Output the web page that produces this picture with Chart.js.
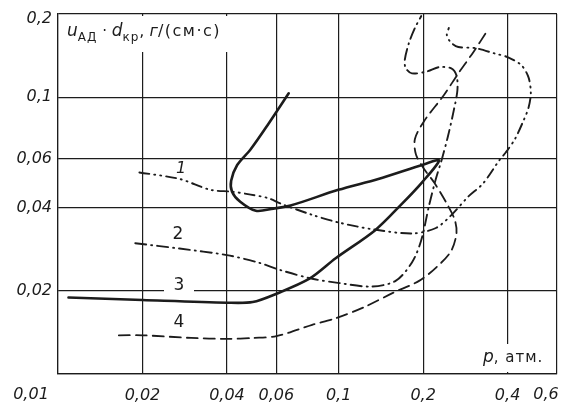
<!DOCTYPE html>
<html>
<head>
<meta charset="utf-8">
<script src="https://cdn.jsdelivr.net/npm/chart.js@4"></script>
<style>
  html, body { margin: 0; padding: 0; background: #fff; }
</style>
</head>
<body>
<canvas id="chart" width="562" height="407"></canvas>
<script>
// ticks of both log axes
const xTicks = [0.01, 0.02, 0.04, 0.06, 0.1, 0.2, 0.4, 0.6];
const yTicks = [0.01, 0.02, 0.04, 0.06, 0.1, 0.2];

// curve 1 (dash-dot-dot)
const c1p = [0.0195, 0.0271, 0.0349, 0.0417, 0.0486, 0.0561, 0.0624, 0.0805, 0.0997, 0.1307, 0.1825, 0.2222, 0.2527, 0.290, 0.327, 0.375, 0.394, 0.425, 0.455, 0.475, 0.484, 0.475, 0.448, 0.40, 0.36, 0.307, 0.267, 0.251, 0.243, 0.247];
const c1u = [0.0535, 0.0507, 0.0463, 0.0456, 0.0445, 0.0432, 0.0412, 0.0376, 0.0353, 0.0334, 0.0322, 0.0337, 0.0376, 0.0438, 0.0488, 0.0595, 0.0632, 0.0707, 0.082, 0.0917, 0.1034, 0.118, 0.1306, 0.1397, 0.144, 0.1506, 0.152, 0.158, 0.168, 0.178];

// curve 2 (dash-dot)
const c2p = [0.01885, 0.0271, 0.04, 0.0516, 0.0624, 0.0805, 0.1008, 0.1307, 0.1596, 0.1825, 0.1967, 0.21, 0.222, 0.233, 0.245, 0.257, 0.265, 0.263, 0.251, 0.228, 0.2066, 0.1825, 0.1735, 0.172, 0.178, 0.187, 0.197];
const c2u = [0.0297, 0.0284, 0.0269, 0.0253, 0.0237, 0.0221, 0.0213, 0.0207, 0.0217, 0.0253, 0.0303, 0.0406, 0.0507, 0.0595, 0.072, 0.0893, 0.106, 0.12, 0.1274, 0.1285, 0.124, 0.122, 0.1274, 0.136, 0.157, 0.178, 0.1967];

// curve 3 (solid)
const c3p = [0.0109, 0.02, 0.04, 0.0494, 0.06, 0.0787, 0.0976, 0.135, 0.168, 0.198, 0.228, 0.202, 0.1385, 0.0997, 0.0674, 0.0585, 0.0507, 0.0446, 0.0417, 0.0414, 0.0435, 0.0486, 0.0561, 0.0664];
const c3u = [0.0189, 0.0185, 0.0181, 0.0182, 0.0195, 0.0221, 0.0262, 0.0331, 0.0412, 0.0492, 0.0591, 0.0573, 0.0507, 0.0463, 0.0406, 0.0396, 0.0389, 0.0419, 0.0456, 0.0499, 0.0569, 0.0649, 0.0799, 0.1034];

// curve 4 (dashed)
const c4p = [0.01647, 0.02, 0.0298, 0.04, 0.0498, 0.06, 0.0805, 0.0976, 0.1242, 0.157, 0.1935, 0.222, 0.251, 0.263, 0.259, 0.241, 0.219, 0.2016, 0.1886, 0.187, 0.2016, 0.237, 0.267, 0.302, 0.340];
const c4u = [0.0138, 0.0138, 0.0135, 0.0134, 0.0135, 0.0137, 0.01506, 0.0159, 0.0175, 0.0197, 0.0217, 0.0242, 0.0277, 0.0322, 0.0362, 0.0419, 0.0492, 0.0551, 0.0621, 0.0707, 0.082, 0.1017, 0.122, 0.1456, 0.175];

const ink = '#1c1c1c';
const fmt = v => String(v).replace('.', ',');
const pts = (xs, ys) => xs.map((x, i) => ({ x: x, y: ys[i] }));
const tickFont = { family: 'DejaVu Sans', size: 16, style: 'italic' };

function curve(xs, ys, dash, width) {
    return {
        data: pts(xs, ys),
        showLine: true,
        borderColor: ink,
        borderWidth: width,
        borderDash: dash,
        borderCapStyle: 'round',
        pointRadius: 0,
        tension: 0.3,
        clip: false
    };
}

// printed texts inside the frame, with the paper showing through the grid
const notes = {
    id: 'notes',
    beforeDatasetsDraw(chart) {
        const ctx = chart.ctx;
        ctx.save();
        ctx.fillStyle = '#fff';
        ctx.fillRect(59, 16, 186, 36);
        ctx.fillRect(476, 344, 78, 28);
        ctx.fillRect(164, 277, 30, 18);
        ctx.restore();
    },
    afterDraw(chart) {
        const ctx = chart.ctx;
        ctx.save();
        ctx.fillStyle = ink;
        ctx.textBaseline = 'alphabetic';
        let x = 67;
        const put = (t, font, y, gap) => {
            ctx.font = font;
            ctx.letterSpacing = (gap || 0) + 'px';
            ctx.fillText(t, x, y);
            x += ctx.measureText(t).width;
        };
        put('u', 'italic 17px "DejaVu Sans"', 36);
        put('АД', '12px "DejaVu Sans"', 41, 1);
        put(' · ', '15px "DejaVu Sans"', 36);
        put('d', 'italic 17px "DejaVu Sans"', 36);
        put('кр', '12px "DejaVu Sans"', 41, 1);
        put(', ', '16px "DejaVu Sans"', 36);
        put('г', 'italic 16px "DejaVu Sans"', 36);
        put('/(см·с)', '16px "DejaVu Sans"', 36, 1.5);

        x = 483;
        put('p', 'italic 17px "DejaVu Sans"', 362);
        put(', атм.', '15px "DejaVu Sans"', 362, 1);
        ctx.letterSpacing = '0px';

        ctx.textAlign = 'center';
        ctx.textBaseline = 'middle';
        ctx.font = 'italic 16px "DejaVu Sans"';
        ctx.fillText('1', 181, 169);
        ctx.font = '17px "DejaVu Sans"';
        ctx.fillText('2', 178, 235);
        ctx.fillText('3', 179, 286);
        ctx.fillText('4', 179, 323);

        // corner labels, set inside the page as printed
        ctx.font = 'italic 16px "DejaVu Sans"';
        ctx.fillText(fmt(xTicks[0]), 31, 395);
        ctx.fillText(fmt(xTicks[xTicks.length - 1]), 546, 395);
        ctx.textAlign = 'right';
        ctx.fillText(fmt(yTicks[yTicks.length - 1]), 52, 19);
        ctx.restore();
    }
};

new Chart(document.getElementById('chart'), {
    type: 'scatter',
    data: {
        datasets: [
            curve(c1p, c1u, [10, 5, 1, 5, 1, 5], 1.9),
            curve(c2p, c2u, [11, 5, 1, 5], 1.9),
            curve(c3p, c3u, [], 2.6),
            curve(c4p, c4u, [11, 6], 1.8)
        ]
    },
    options: {
        responsive: false,
        animation: false,
        devicePixelRatio: 1,
        layout: { padding: { left: 0, top: 14, right: 5, bottom: 0 } },
        plugins: {
            legend: { display: false },
            tooltip: { enabled: false }
        },
        scales: {
            x: {
                type: 'logarithmic',
                min: 0.01,
                max: 0.6,
                afterBuildTicks: s => { s.ticks = xTicks.map(v => ({ value: v })); },
                afterFit: s => { s.height = 33; s.paddingLeft = 0; s.paddingRight = 0; },
                grid: { color: ink, lineWidth: 1.2, drawTicks: false },
                border: { color: ink, width: 1.2 },
                ticks: {
                    color: ink,
                    padding: 12,
                    maxRotation: 0,
                    autoSkip: false,
                    font: tickFont,
                    callback: v => (v === 0.01 || v === 0.6) ? '' : fmt(v)
                }
            },
            y: {
                type: 'logarithmic',
                min: 0.01,
                max: 0.2,
                afterBuildTicks: s => { s.ticks = yTicks.map(v => ({ value: v })); },
                afterFit: s => { s.width = 58; s.paddingTop = 0; s.paddingBottom = 0; },
                grid: { color: ink, lineWidth: 1.2, drawTicks: false },
                border: { color: ink, width: 1.2 },
                ticks: {
                    color: ink,
                    padding: 6,
                    autoSkip: false,
                    font: tickFont,
                    callback: v => (v === 0.01 || v === 0.2) ? '' : fmt(v)
                }
            }
        }
    },
    plugins: [notes]
});
</script>
</body>
</html>
